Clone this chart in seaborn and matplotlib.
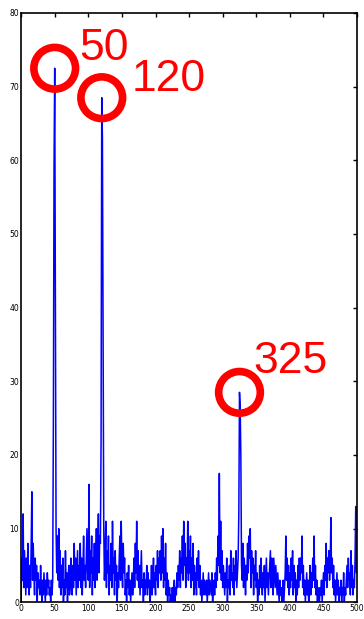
import numpy as np
import pandas as pd
import matplotlib
matplotlib.use('Agg')
import matplotlib.pyplot as plt
import seaborn as sns

# spectrum amplitudes, one sample per frequency bin (0..499)
amplitude = [
    0, 6, 3, 12, 2, 7, 4, 1, 6, 2, 8, 3, 1, 5, 2, 8, 15, 3, 8, 4, 1, 6, 3, 5, 0,
    4, 2, 3, 1, 5, 2, 0, 3, 1, 4, 2, 0, 3, 1, 4, 2, 3, 1, 2, 0, 3, 1, 3, 24, 59,
    72.5, 39, 10, 4, 9, 3, 10, 2, 7, 1, 5, 2, 6, 0, 3, 1, 7, 2, 4, 0, 3, 5, 1, 2, 6,
    3, 1, 5, 2, 8, 3, 6, 1, 4, 7, 2, 5, 3, 8, 2, 6, 1, 4, 9, 3, 5, 2, 6, 10, 4,
    3, 16, 2, 7, 4, 9, 1, 6, 3, 8, 2, 5, 10, 3, 7, 12, 4, 9, 8, 22, 68.5, 63, 38, 10, 3,
    6, 11, 2, 7, 4, 9, 1, 5, 3, 8, 2, 11, 4, 6, 1, 7, 3, 5, 0, 4, 2, 6, 9, 3, 11,
    5, 2, 8, 4, 6, 1, 3, 0, 4, 2, 5, 1, 3, 0, 2, 4, 1, 3, 6, 2, 8, 4, 11, 3, 7,
    2, 5, 1, 4, 7, 2, 3, 0, 4, 1, 3, 2, 5, 1, 4, 2, 3, 0, 2, 5, 1, 3, 6, 2, 4,
    1, 5, 3, 7, 2, 6, 4, 7, 3, 9, 4, 10, 2, 6, 3, 8, 1, 4, 0, 3, 1, 2, 0, 1, 0,
    2, 0, 1, 3, 0, 2, 1, 4, 2, 5, 3, 7, 2, 6, 4, 9, 3, 11, 5, 8, 2, 6, 4, 11, 3,
    7, 4, 9, 2, 6, 3, 8, 1, 5, 2, 4, 1, 6, 3, 7, 2, 5, 1, 3, 0, 2, 4, 1, 3, 2,
    1, 3, 0, 2, 4, 1, 3, 2, 1, 4, 0, 2, 3, 1, 4, 2, 6, 3, 9, 5, 17.5, 4, 11, 3, 7,
    2, 5, 3, 1, 4, 2, 6, 0, 3, 2, 5, 1, 7, 3, 4, 2, 6, 1, 5, 3, 7, 2, 4, 6, 12,
    28.5, 26.5, 20, 5, 3, 8, 2, 6, 4, 1, 5, 3, 8, 4, 9, 6, 10, 2, 7, 4, 6, 1, 5, 3, 7,
    2, 4, 0, 3, 1, 5, 2, 6, 3, 1, 4, 2, 5, 0, 3, 6, 2, 4, 1, 3, 5, 7, 2, 6, 3,
    1, 6, 4, 2, 5, 3, 1, 4, 2, 0, 3, 1, 2, 0, 1, 3, 0, 2, 4, 9, 3, 6, 2, 5, 1,
    4, 2, 6, 3, 7, 1, 5, 2, 4, 0, 3, 1, 5, 2, 6, 3, 6, 4, 9, 2, 5, 1, 3, 0, 2,
    4, 1, 3, 0, 2, 5, 1, 4, 2, 6, 3, 9, 2, 5, 1, 3, 0, 2, 1, 0, 2, 1, 3, 0, 2,
    4, 1, 5, 3, 8, 2, 6, 4, 7, 3, 5, 11.5, 4, 6, 2, 5, 1, 3, 0, 2, 4, 1, 3, 0, 2,
    1, 3, 0, 2, 1, 4, 0, 2, 1, 3, 5, 2, 6, 3, 4, 1, 7, 2, 5, 1, 3, 2, 6, 13, 4,
]
frequency = np.arange(len(amplitude))

# marked peaks
peak_freq = [50, 120, 325]
peak_amp = [72.5, 68.5, 28.5]
peak_labels = ['50', '120', '325']

x_ticks = [0, 50, 100, 150, 200, 250, 300, 350, 400, 450, 500]
y_ticks = [0, 10, 20, 30, 40, 50, 60, 70, 80]

df = pd.DataFrame({'freq': frequency, 'amp': amplitude})

sns.set_style('white')
fig = plt.figure(figsize=(3.64, 6.19), dpi=100)
ax = fig.add_axes([0.058, 0.027, 0.923, 0.952])

sns.lineplot(data=df, x='freq', y='amp', color='#0000ff', linewidth=1.1, ax=ax)

# red rings around peaks
ax.scatter(peak_freq, peak_amp, s=900, facecolors='none', edgecolors='#ff0000',
           linewidths=5.5, zorder=5)

# (dx, dy) in pixels from the peak to the label's lower-left corner
offsets = [(25, 8), (30, 7), (14, 19)]
for fx, fy, lab, off in zip(peak_freq, peak_amp, peak_labels, offsets):
    ax.annotate(lab, (fx, fy), xytext=off, textcoords='offset pixels',
                color='#ff0000', fontsize=32, family='Liberation Sans',
                ha='left', va='baseline')

ax.set_xlim(0, 500)
ax.set_ylim(0, 80)
ax.set_xticks(x_ticks)
ax.set_yticks(y_ticks)
ax.set_xlabel('')
ax.set_ylabel('')
ax.tick_params(direction='in', length=3, width=1, labelsize=5.5, pad=1.5,
               top=True, right=True, colors='black')
for sp in ax.spines.values():
    sp.set_color('black')
    sp.set_linewidth(1.2)

fig.savefig('out.png', dpi=100)
